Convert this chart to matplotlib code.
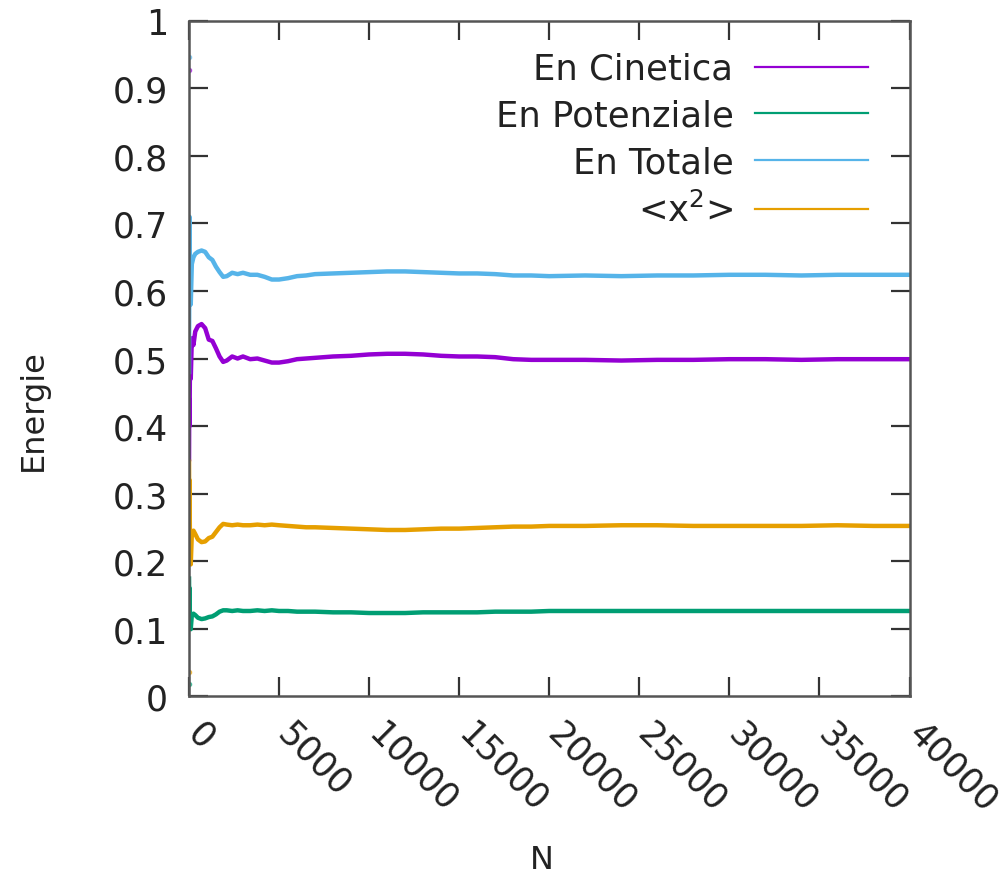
import matplotlib.pyplot as plt
from matplotlib.lines import Line2D
from matplotlib.transforms import ScaledTranslation

# passi della simulazione (il primo punto e' isolato)
passi = [1, 5, 15, 30, 60, 100, 160, 250, 350, 500, 700, 900, 1100, 1300, 1500,
         1700, 1900, 2100, 2400, 2700, 3000, 3400, 3800, 4200, 4600, 5000, 5500,
         6000, 6500, 7000, 8000, 9000, 10000, 11000, 12000, 13000, 14000, 15000,
         16000, 17000, 18000, 19000, 20000, 22000, 24000, 26000, 28000, 30000,
         32000, 34000, 36000, 38000, 40000]

en_cinetica = [0.927, 0.351, 0.44, 0.40, 0.50, 0.47, 0.53, 0.52, 0.54, 0.548, 0.551,
               0.545, 0.528, 0.526, 0.515, 0.503, 0.495, 0.497, 0.503, 0.500, 0.503,
               0.499, 0.500, 0.497, 0.494, 0.494, 0.496, 0.499, 0.500, 0.501, 0.503,
               0.504, 0.506, 0.507, 0.507, 0.506, 0.504, 0.503, 0.503, 0.502, 0.499,
               0.498, 0.498, 0.498, 0.497, 0.498, 0.498, 0.499, 0.499, 0.498, 0.499,
               0.499, 0.499]

en_potenziale = [0.018, 0.174, 0.13, 0.16, 0.105, 0.099, 0.12, 0.122, 0.12, 0.116,
                 0.114, 0.115, 0.117, 0.118, 0.121, 0.125, 0.127, 0.127, 0.126, 0.127,
                 0.126, 0.126, 0.127, 0.126, 0.127, 0.126, 0.126, 0.125, 0.125, 0.125,
                 0.124, 0.124, 0.123, 0.123, 0.123, 0.124, 0.124, 0.124, 0.124, 0.125,
                 0.125, 0.125, 0.126, 0.126, 0.126, 0.126, 0.126, 0.126, 0.126, 0.126,
                 0.126, 0.126, 0.126]

en_totale = [0.947, 0.48, 0.60, 0.71, 0.62, 0.58, 0.64, 0.65, 0.655, 0.658, 0.660,
             0.658, 0.650, 0.646, 0.636, 0.628, 0.621, 0.622, 0.627, 0.625, 0.627,
             0.624, 0.624, 0.621, 0.617, 0.617, 0.619, 0.622, 0.623, 0.625, 0.626,
             0.627, 0.628, 0.629, 0.629, 0.628, 0.627, 0.626, 0.626, 0.625, 0.623,
             0.623, 0.622, 0.623, 0.622, 0.623, 0.623, 0.624, 0.624, 0.623, 0.624,
             0.624, 0.624]

x2_medio = [0.036, 0.347, 0.26, 0.32, 0.21, 0.195, 0.24, 0.245, 0.24, 0.232, 0.228,
            0.229, 0.234, 0.236, 0.243, 0.250, 0.255, 0.254, 0.253, 0.254, 0.253,
            0.253, 0.254, 0.253, 0.254, 0.253, 0.252, 0.251, 0.250, 0.250, 0.249,
            0.248, 0.247, 0.246, 0.246, 0.247, 0.248, 0.248, 0.249, 0.250, 0.251,
            0.251, 0.252, 0.252, 0.253, 0.253, 0.252, 0.252, 0.252, 0.252, 0.253,
            0.252, 0.252]

serie = [
    ('En Cinetica', en_cinetica, '#9400d3'),
    ('En Potenziale', en_potenziale, '#009e73'),
    ('En Totale', en_totale, '#56b4e9'),
    ('<x$^2$>', x2_medio, '#e69f00'),
]

plt.rcParams['font.family'] = 'DejaVu Sans'
plt.rcParams['font.size'] = 23

fig = plt.figure(figsize=(10.05, 8.79), dpi=100)
ax = fig.add_axes([0.188, 0.207, 0.717, 0.768])

handles = []
for nome, valori, colore in serie:
    # primo valore come punto singolo, il resto come curva
    ax.plot(passi[:1], valori[:1], 'o', ms=3, color=colore, alpha=0.6)
    ax.plot(passi[1:], valori[1:], color=colore, lw=3.2)
    handles.append(Line2D([], [], color=colore, lw=1.6, label=nome))

ax.set_xlim(0, 40000)
ax.set_ylim(0, 1)
ax.set_xticks(range(0, 40001, 5000))
ax.set_yticks([i / 10 for i in range(11)])
ax.set_yticklabels(['0', '0.1', '0.2', '0.3', '0.4', '0.5', '0.6', '0.7', '0.8', '0.9', '1'])

ax.tick_params(axis='both', direction='in', length=14, width=1.6, color='#333333',
               top=True, right=True, labelcolor='#222222', labelsize=25)
ax.tick_params(axis='y', pad=15)
ax.tick_params(axis='x', pad=23)
sposta = ScaledTranslation(4 / 100, 0, fig.dpi_scale_trans)
for lab in ax.get_xticklabels():
    lab.set_rotation(-45)
    lab.set_rotation_mode('anchor')
    lab.set_ha('left')
    lab.set_va('center')
    lab.set_transform(lab.get_transform() + sposta)

for sp in ax.spines.values():
    sp.set_color('#555555')
    sp.set_linewidth(1.8)

ax.set_xlabel('N', color='#222222')
ax.set_ylabel('Energie', color='#222222')
ax.xaxis.set_label_coords(0.49, -0.219)
ax.yaxis.set_label_coords(-0.195, 0.425)

ax.legend(handles=handles, loc='upper right', markerfirst=False, frameon=False,
          bbox_to_anchor=(868 / 1005, 1 - 53 / 879), bbox_transform=fig.transFigure,
          borderpad=0, borderaxespad=0, handlelength=3.2, handletextpad=0.6,
          labelspacing=0.36, labelcolor='#222222', fontsize=25.5)

fig.savefig('out.png', dpi=100)
